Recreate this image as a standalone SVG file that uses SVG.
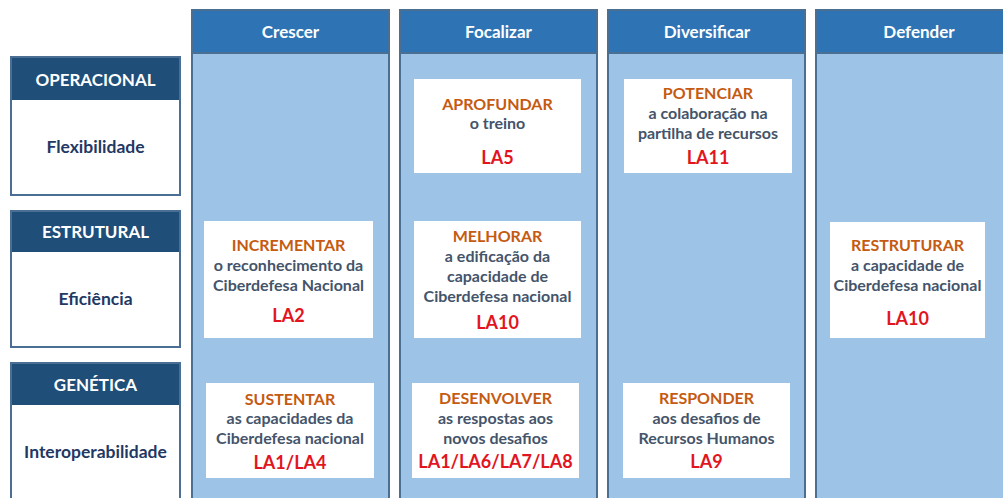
<svg xmlns="http://www.w3.org/2000/svg" width="1003" height="498" viewBox="0 0 1003 498">
<style>
.col{fill:#9dc3e6;stroke:#4a6f93;stroke-width:2}
.colh{fill:#2e74b5;stroke:#4a6f93;stroke-width:2}
.ht{font-family:Lato,"Liberation Sans",sans-serif;font-weight:bold;font-size:17px;fill:#ffffff;text-anchor:middle}
.lb{fill:#ffffff;stroke:#4a6f93;stroke-width:2}
.lh{fill:#1f4e79}
.lht{font-family:Lato,"Liberation Sans",sans-serif;font-weight:bold;font-size:17px;fill:#ffffff;text-anchor:middle}
.lbt{font-family:Lato,"Liberation Sans",sans-serif;font-weight:bold;font-size:17.5px;fill:#1f3864;text-anchor:middle}
.box{fill:#ffffff}
.v{font-family:Lato,"Liberation Sans",sans-serif;font-weight:bold;font-size:16px;fill:#c55a11;text-anchor:middle}
.t{font-family:Lato,"Liberation Sans",sans-serif;font-weight:bold;font-size:16px;fill:#44546a;text-anchor:middle}
.la{font-family:Lato,"Liberation Sans",sans-serif;font-weight:bold;font-size:18px;fill:#e2151f;text-anchor:middle}
</style>
<rect width="1003" height="498" fill="#ffffff"/>
<g id="col-crescer">
<rect class="col" x="192" y="10" width="197" height="500"/>
<rect class="colh" x="192" y="10" width="197" height="43"/>
<text class="ht" x="290.5" y="38">Crescer</text>
</g>
<g id="col-focalizar">
<rect class="col" x="400" y="10" width="197" height="500"/>
<rect class="colh" x="400" y="10" width="197" height="43"/>
<text class="ht" x="498.5" y="38">Focalizar</text>
</g>
<g id="col-diversificar">
<rect class="col" x="608" y="10" width="197" height="500"/>
<rect class="colh" x="608" y="10" width="197" height="43"/>
<text class="ht" x="707" y="38">Diversificar</text>
</g>
<g id="col-defender">
<rect class="col" x="816" y="10" width="210" height="500"/>
<rect class="colh" x="816" y="10" width="210" height="43"/>
<text class="ht" x="919" y="38">Defender</text>
</g>
<g id="row-operacional">
<rect class="lb" x="11" y="57" width="169" height="138"/>
<rect class="lh" x="12" y="58" width="167" height="42"/>
<text class="lht" x="95.5" y="86">OPERACIONAL</text>
<text class="lbt" x="95.5" y="153">Flexibilidade</text>
</g>
<g id="row-estrutural">
<rect class="lb" x="11" y="211" width="169" height="136"/>
<rect class="lh" x="12" y="212" width="167" height="40"/>
<text class="lht" x="95.5" y="238">ESTRUTURAL</text>
<text class="lbt" x="95.5" y="305">Eficiência</text>
</g>
<g id="row-genetica">
<rect class="lb" x="11" y="363" width="169" height="150"/>
<rect class="lh" x="12" y="364" width="167" height="41"/>
<text class="lht" x="95.5" y="391">GENÉTICA</text>
<text class="lbt" x="95.5" y="458">Interoperabilidade</text>
</g>
<g id="box-incrementar">
<rect class="box" x="204" y="221" width="169" height="117"/>
<text class="v" x="288.5" y="251">INCREMENTAR</text>
<text class="t" x="288.5" y="271">o reconhecimento da</text>
<text class="t" x="288.5" y="291">Ciberdefesa Nacional</text>
<text class="la" x="288.5" y="322">LA2</text>
</g>
<g id="box-sustentar">
<rect class="box" x="206" y="383" width="168" height="95"/>
<text class="v" x="290" y="405">SUSTENTAR</text>
<text class="t" x="290" y="424">as capacidades da</text>
<text class="t" x="290" y="444">Ciberdefesa nacional</text>
<text class="la" x="290" y="469">LA1/LA4</text>
</g>
<g id="box-aprofundar">
<rect class="box" x="414" y="79" width="167" height="94"/>
<text class="v" x="497.5" y="110">APROFUNDAR</text>
<text class="t" x="497.5" y="129">o treino</text>
<text class="la" x="497.5" y="164">LA5</text>
</g>
<g id="box-melhorar">
<rect class="box" x="414" y="221" width="167" height="117"/>
<text class="v" x="497.5" y="242">MELHORAR</text>
<text class="t" x="497.5" y="262">a edificação da</text>
<text class="t" x="497.5" y="282">capacidade de</text>
<text class="t" x="497.5" y="302">Ciberdefesa nacional</text>
<text class="la" x="497.5" y="329">LA10</text>
</g>
<g id="box-desenvolver">
<rect class="box" x="412" y="383" width="167" height="95"/>
<text class="v" x="495.5" y="404">DESENVOLVER</text>
<text class="t" x="495.5" y="424">as respostas aos</text>
<text class="t" x="495.5" y="444">novos desafios</text>
<text class="la" x="495.5" y="468">LA1/LA6/LA7/LA8</text>
</g>
<g id="box-potenciar">
<rect class="box" x="624" y="79" width="168" height="94"/>
<text class="v" x="708" y="99">POTENCIAR</text>
<text class="t" x="708" y="119">a colaboração na</text>
<text class="t" x="708" y="139">partilha de recursos</text>
<text class="la" x="708" y="164">LA11</text>
</g>
<g id="box-responder">
<rect class="box" x="623" y="383" width="167" height="95"/>
<text class="v" x="706.5" y="404">RESPONDER</text>
<text class="t" x="706.5" y="424">aos desafios de</text>
<text class="t" x="706.5" y="444">Recursos Humanos</text>
<text class="la" x="706.5" y="468">LA9</text>
</g>
<g id="box-restruturar">
<rect class="box" x="830" y="222" width="155" height="116"/>
<text class="v" x="907.5" y="251">RESTRUTURAR</text>
<text class="t" x="907.5" y="271">a capacidade de</text>
<text class="t" x="907.5" y="291">Ciberdefesa nacional</text>
<text class="la" x="907.5" y="325">LA10</text>
</g>
<g id="connectors"></g>
</svg>
